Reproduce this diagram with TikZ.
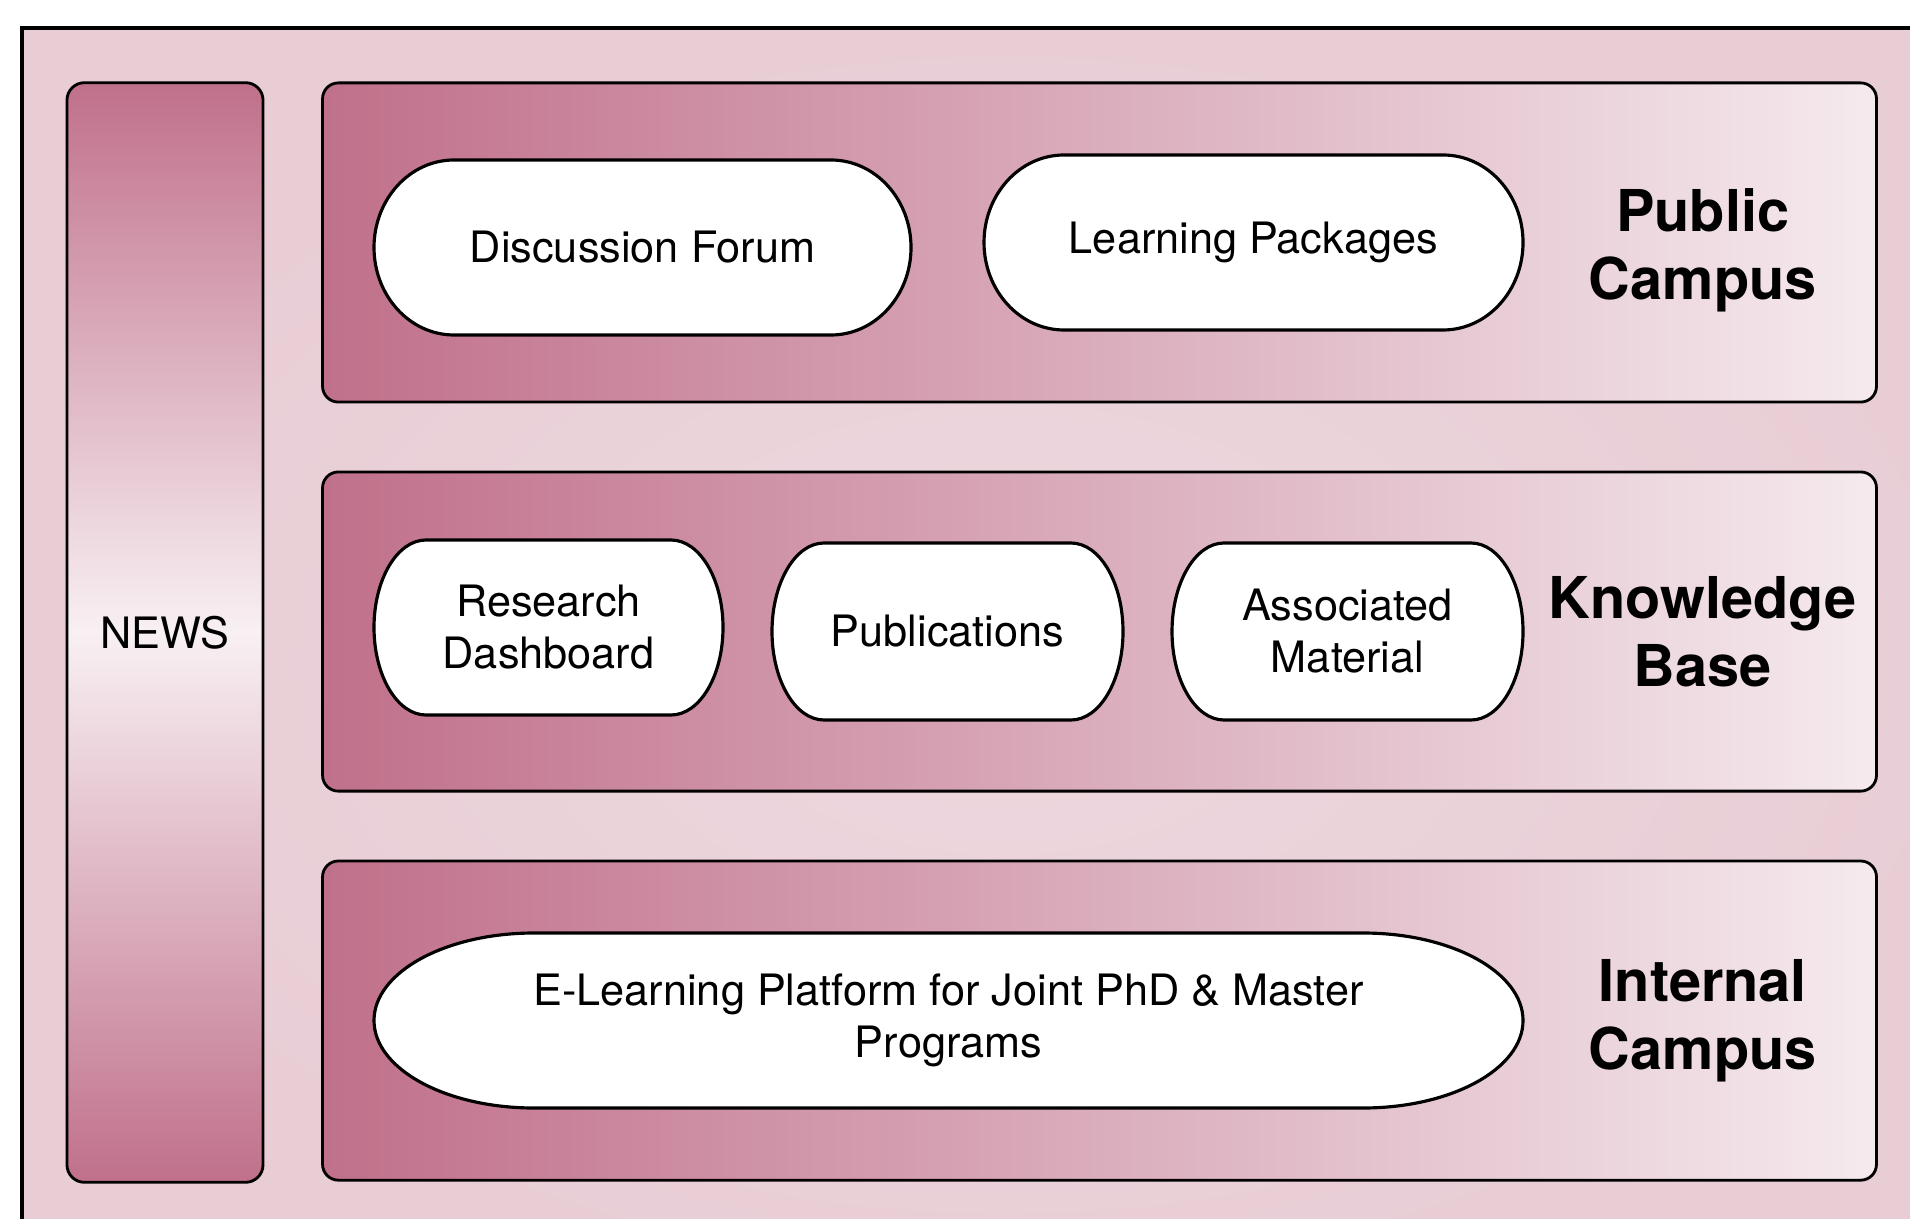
\documentclass[tikz,border=0pt]{standalone}
\usepackage{fontspec}
\setmainfont{TeX Gyre Heros}
\usetikzlibrary{positioning}

\definecolor{rosedark}{RGB}{192,112,138}
\definecolor{roselight}{RGB}{245,234,238}
\definecolor{rosemid}{RGB}{248,240,243}
\definecolor{roseframe}{RGB}{232,205,213}
\definecolor{roseframein}{RGB}{237,216,222}

% capsule with elliptic ends: name, cx, cy, width, height, x radius, text
\newcommand{\pillnode}[7]{%
  \path[pill] ({#2-#4/2+#6},{#3+#5/2}) -- ({#2+#4/2-#6},{#3+#5/2})
    arc[start angle=90, end angle=-90, x radius=#6, y radius=#5/2]
    -- ({#2-#4/2+#6},{#3-#5/2})
    arc[start angle=270, end angle=90, x radius=#6, y radius=#5/2] -- cycle
    node[pilltext] (#1) at (#2,#3) {#7};}

\begin{document}
\begin{tikzpicture}[x=0.01cm, y=0.01cm,
  font=\fontsize{12.3}{14.8}\selectfont,
  pill/.style={draw=black, line width=0.9pt, fill=white},
  pilltext/.style={align=center, inner sep=0pt},
  panel/.style={draw=black, line width=0.8pt, rounded corners=4.5pt,
    left color=rosedark, right color=roselight,
    minimum width=15.53cm, minimum height=3.19cm},
  campus/.style={font=\fontsize{16.4}{19.3}\selectfont\bfseries, align=center},
]
\useasboundingbox (0,0) rectangle (1910,-1219);
\clip (0,0) rectangle (1910,-1219);

% outer frame
\path[draw=black, line width=0.9pt, inner color=roseframein, outer color=roseframe]
  (22,-28) rectangle (1990,-1300);

% news column
\node[draw=black, line width=0.8pt, rounded corners=5pt,
  top color=rosedark, bottom color=rosedark, middle color=rosemid,
  minimum width=1.96cm, minimum height=10.99cm] (news) at (165,-632.5) {NEWS};

% the three campus panels
\node[panel] (public) at (1099.5,-242.5) {};
\node[panel, below=0.67cm of public] (knowledge) {};
\node[panel, below=0.67cm of knowledge] (internal) {};

\node[campus] (publab) at ([xshift=-1.75cm, yshift=-0.08cm]public.east) {Public\\Campus};
\node[campus] (knowlab) at ([xshift=-1.75cm]knowledge.east) {Knowledge\\Base};
\node[campus] (intlab) at ([xshift=-1.75cm]internal.east) {Internal\\Campus};

\pillnode{forum}{642.5}{-247.5}{537}{175}{80}{Discussion Forum}
\pillnode{packages}{1253.5}{-242.5}{539}{175}{80}{Learning Packages}
\pillnode{dashboard}{548.5}{-627.5}{349}{175}{52}{Research\\Dashboard}
\pillnode{pubs}{947.5}{-631.5}{351}{177}{52}{Publications}
\pillnode{material}{1347.5}{-631.5}{351}{177}{52}{Associated\\Material}
\pillnode{elearning}{948.5}{-1020.5}{1149}{175}{160}{E-Learning Platform for Joint PhD \& Master\\Programs}

\end{tikzpicture}
\end{document}
